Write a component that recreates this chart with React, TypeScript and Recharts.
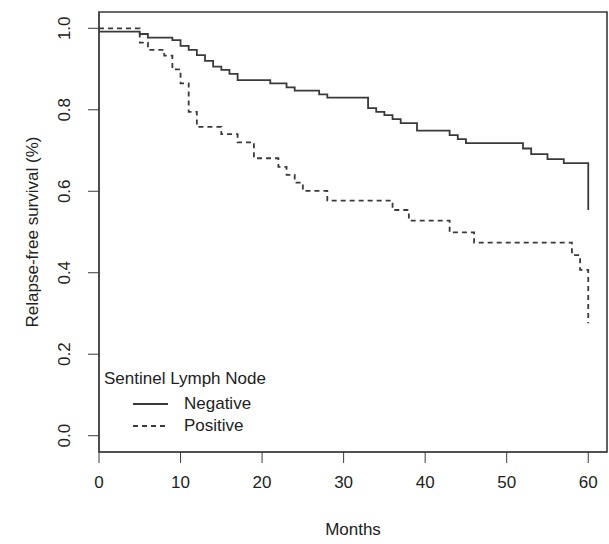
import { LineChart, Line, XAxis, YAxis, ReferenceArea } from "recharts";

// Kaplan-Meier steps (months, survival fraction)
const negTimes = [0, 5, 6, 9, 10, 11, 12, 13, 14, 15, 16, 17, 21, 23, 24, 27, 28, 33, 34, 35, 36, 37, 39, 43, 44, 45, 52, 53, 55, 57, 60];
const negSurv = [0.992, 0.986, 0.977, 0.971, 0.957, 0.947, 0.934, 0.92, 0.906, 0.898, 0.888, 0.873, 0.865, 0.855, 0.847, 0.838, 0.83, 0.804, 0.795, 0.787, 0.777, 0.767, 0.749, 0.738, 0.728, 0.718, 0.705, 0.691, 0.679, 0.669, 0.554];

const posTimes = [0, 5, 6, 8, 9, 10, 11, 12, 15, 17, 19, 22, 23, 24, 25, 28, 36, 38, 43, 46, 58, 59, 60];
const posSurv = [1.0, 0.965, 0.947, 0.933, 0.899, 0.865, 0.795, 0.758, 0.74, 0.72, 0.681, 0.66, 0.64, 0.621, 0.601, 0.577, 0.554, 0.528, 0.499, 0.474, 0.443, 0.407, 0.276];

const xTicks = [0, 10, 20, 30, 40, 50, 60];
const yTicks = [0, 0.2, 0.4, 0.6, 0.8, 1.0];

const legendTitle = "Sentinel Lymph Node";
const legendItems = [
    { label: "Negative", dash: undefined as string | undefined },
    { label: "Positive", dash: "5 4" },
];

const X_DOMAIN: [number, number] = [0, 62.3];
const Y_DOMAIN: [number, number] = [-0.04, 1.04];

const INK = "#3a3a3a";
const FONT = "'Liberation Sans', Arial, sans-serif";

const negData = negTimes.map((t, i) => ({ t, s: negSurv[i] }));
const posData = posTimes.map((t, i) => ({ t, s: posSurv[i] }));

function YTick(props: any) {
    const { x, y, payload } = props;
    return (
        <text
            x={x}
            y={y}
            transform={`rotate(-90, ${x}, ${y})`}
            textAnchor="middle"
            dominantBaseline="central"
            fontSize={17}
            fontFamily={FONT}
            fill="#222"
        >
            {Number(payload.value).toFixed(1)}
        </text>
    );
}

function LegendBox() {
    return (
        <div
            style={{
                position: "absolute",
                left: 104,
                top: 369,
                fontFamily: FONT,
                fontSize: 17,
                color: "#222",
                lineHeight: "20px",
                pointerEvents: "none",
            }}
        >
            <div>{legendTitle}</div>
            <div style={{ marginTop: 4 }}>
                {legendItems.map((item) => (
                    <div key={item.label} style={{ display: "flex", alignItems: "center", height: 22 }}>
                        <svg width={80} height={10}>
                            <line
                                x1={29}
                                x2={64}
                                y1={5}
                                y2={5}
                                stroke={INK}
                                strokeWidth={1.8}
                                strokeDasharray={item.dash}
                            />
                        </svg>
                        <span>{item.label}</span>
                    </div>
                ))}
            </div>
        </div>
    );
}

export default function App() {
    return (
        <div style={{ position: "absolute", left: 0, top: 0, width: 609, height: 544, background: "#fff" }}>
            <LineChart width={609} height={544} margin={{ top: 12, right: 2, left: 0, bottom: 0 }}>
                <XAxis
                    type="number"
                    dataKey="t"
                    domain={X_DOMAIN}
                    ticks={xTicks}
                    allowDataOverflow
                    height={92}
                    tickSize={11}
                    tickMargin={13}
                    stroke={INK}
                    tick={{ fill: "#222", fontSize: 17, fontFamily: FONT }}
                    label={(p: any) => {
                        const vb = p.viewBox;
                        return (
                            <text
                                x={vb.x + vb.width / 2}
                                y={vb.y + 77}
                                textAnchor="middle"
                                dominantBaseline="central"
                                fontSize={17}
                                fontFamily={FONT}
                                fill="#222"
                            >
                                Months
                            </text>
                        );
                    }}
                />
                <YAxis
                    type="number"
                    dataKey="s"
                    domain={Y_DOMAIN}
                    ticks={yTicks}
                    allowDataOverflow
                    width={99}
                    tickSize={11}
                    tickMargin={23}
                    stroke={INK}
                    tick={<YTick />}
                    label={(p: any) => {
                        const vb = p.viewBox;
                        const cx = vb.x + 32;
                        const cy = vb.y + vb.height / 2;
                        return (
                            <text
                                x={cx}
                                y={cy}
                                transform={`rotate(-90, ${cx}, ${cy})`}
                                textAnchor="middle"
                                dominantBaseline="central"
                                fontSize={17}
                                fontFamily={FONT}
                                fill="#222"
                            >
                                Relapse-free survival (%)
                            </text>
                        );
                    }}
                />
                <ReferenceArea
                    x1={X_DOMAIN[0]}
                    x2={X_DOMAIN[1]}
                    y1={Y_DOMAIN[0]}
                    y2={Y_DOMAIN[1]}
                    fill="none"
                    stroke={INK}
                    strokeWidth={1.6}
                    ifOverflow="visible"
                />
                <Line
                    data={negData}
                    dataKey="s"
                    name="Negative"
                    type="stepAfter"
                    stroke={INK}
                    strokeWidth={1.8}
                    dot={false}
                    activeDot={false}
                    isAnimationActive={false}
                />
                <Line
                    data={posData}
                    dataKey="s"
                    name="Positive"
                    type="stepAfter"
                    stroke={INK}
                    strokeWidth={1.8}
                    strokeDasharray="5 4"
                    dot={false}
                    activeDot={false}
                    isAnimationActive={false}
                />
            </LineChart>
            <LegendBox />
        </div>
    );
}
